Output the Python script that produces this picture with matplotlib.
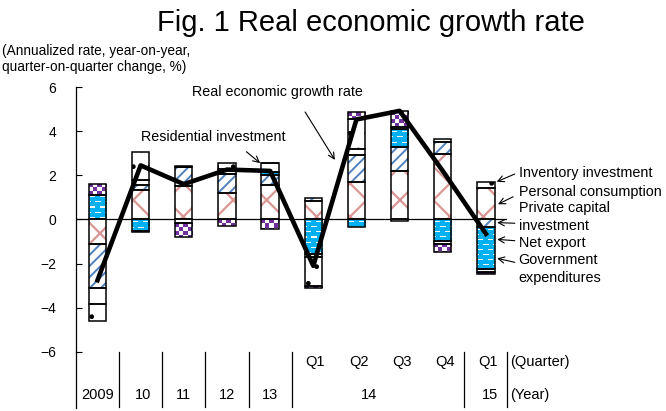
import numpy as np
import matplotlib.pyplot as plt
from matplotlib.colors import to_rgb

plt.rcParams['font.family'] = ['Liberation Sans', 'DejaVu Sans']

# periods (years, then 2014 quarters and 2015 Q1)
periods = ['2009', '10', '11', '12', '13', '14Q1', '14Q2', '14Q3', '14Q4', '15Q1']
quarter_labels = ['', '', '', '', '', 'Q1', 'Q2', 'Q3', 'Q4', 'Q1']
year_labels = ['2009', '10', '11', '12', '13', '14', '15']

# contributions (percentage points)
consumption = [-1.10, 1.32, 1.50, 1.20, 1.55, 0.83, 1.70, 2.20, 2.95, 1.44]
private_cap = [-2.00, 0.26, 0.88, 0.85, 0.45, 0.14, 1.20, 1.09, 0.55, -0.35]
net_export = [1.10, -0.50, 0.00, 0.00, 0.15, -1.56, -0.33, 0.79, -0.98, -1.90]
residential = [-0.72, 0.19, 0.03, 0.25, 0.41, -0.14, 0.28, 0.12, 0.14, -0.15]
inventory = [-0.78, 1.29, -0.17, 0.28, 0.00, -1.30, 1.37, -0.05, -0.12, 0.26]
government = [0.53, -0.05, -0.63, -0.30, -0.42, -0.10, 0.30, 0.72, -0.39, -0.05]
growth = [-2.75, 2.45, 1.60, 2.26, 2.20, -2.10, 4.53, 4.92, 2.20, -0.65]

CYAN = '#00b0f0'
PURPLE = '#7030a0'

# (values, face colour, hatch, hatch colour, hatch width, texture)
components = [
    (consumption, 'white', 'x', '#d99694', 1.6, None),
    (private_cap, 'white', '///', '#4f81bd', 1.4, None),
    (net_export, CYAN, '', CYAN, 1.0, 'dash'),
    (residential, 'white', '', 'white', 1.0, None),
    (inventory, 'white', '.', 'black', 1.0, None),
    (government, PURPLE, '', PURPLE, 1.0, 'checker'),
]


def make_texture(kind, hpx, wpx):
    arr = np.ones((hpx, wpx, 3))
    if kind == 'checker':
        c = np.array(to_rgb(PURPLE))
        for i in range(hpx):
            for j in range(wpx):
                if ((i // 4) + (j // 4)) % 2 == 0:
                    arr[i, j] = c
    else:
        arr[:, :] = to_rgb(CYAN)
        for i in range(hpx):
            if i % 5 == 2:
                off = 4 * ((i // 5) % 2)
                for j in range(wpx):
                    if 1 <= (j + off) % 9 <= 5:
                        arr[i, j] = (1, 1, 1)
    return arr


fig = plt.figure(figsize=(6.66, 4.11), dpi=100)
ax = fig.add_axes([0.114, 0.1436, 0.648, 0.6447])
ax.set_xlim(-0.5, 9.5)
ax.set_ylim(-6, 6)

x = np.arange(len(periods))
w = 0.4
pos_base = np.zeros(len(x))
neg_base = np.zeros(len(x))
for vals, face, hatch, hcol, hlw, tex in components:
    v = np.array(vals)
    bottoms = np.where(v >= 0, pos_base, neg_base)
    bars = ax.bar(x, v, w, bottom=bottoms, color=face, hatch=hatch,
                  edgecolor=hcol, linewidth=0, zorder=2)
    for p in bars:
        if hasattr(p, 'set_hatch_linewidth'):
            p.set_hatch_linewidth(hlw)
        if tex:
            x0, y0 = p.get_x(), p.get_y()
            pw, ph = p.get_width(), p.get_height()
            if ph < 0:
                y0, ph = y0 + ph, -ph
            (px0, py0), (px1, py1) = ax.transData.transform([(x0, y0), (x0 + pw, y0 + ph)])
            wpx, hpx = int(round(px1 - px0)), int(round(py1 - py0))
            if hpx >= 2:
                im = ax.imshow(make_texture(tex, hpx, wpx), extent=(x0, x0 + pw, y0, y0 + ph),
                               origin='upper', aspect='auto', interpolation='nearest', zorder=2.5)
                im.set_clip_path(p)
    ax.bar(x, v, w, bottom=bottoms, fill=False, edgecolor='black',
           linewidth=1.1, zorder=3)
    pos_base += np.where(v >= 0, v, 0)
    neg_base += np.where(v < 0, v, 0)

ax.plot(x, growth, color='black', linewidth=3.3, zorder=5)
ax.axhline(0, color='black', linewidth=0.9, zorder=1)

ax.set_xlim(-0.5, 9.5)
ax.set_ylim(-6, 6)
ax.set_yticks(np.arange(-6, 7, 2))
ax.tick_params(axis='y', direction='in', length=4, pad=14, labelsize=10)
ax.set_xticks([])
for s in ['top', 'right', 'bottom']:
    ax.spines[s].set_visible(False)
ax.spines['left'].set_linewidth(0.9)

# category table below the plot
tr = ax.get_xaxis_transform()
ax.plot([-0.5, -0.5], [0, -0.21], color='black', lw=0.9, transform=tr, clip_on=False)
for sx in [0.5, 1.5, 2.5, 3.5, 4.5, 8.5, 9.5]:
    ax.plot([sx, sx], [0, -0.207], color='black', lw=0.9, transform=tr, clip_on=False)
for xi, q in zip(x, quarter_labels):
    if q:
        ax.text(xi + 0.05, -0.038, q, transform=tr, ha='center', va='center', fontsize=10.5)
year_x = [0, 1.05, 2, 3, 4, 6.3, 9.1]
for xi, yl in zip(year_x, year_labels):
    ax.text(xi, -0.164, yl, transform=tr, ha='center', va='center', fontsize=10.5)
ax.text(9.55, -0.038, '(Quarter)', transform=tr, ha='left', va='center', fontsize=10.5)
ax.text(9.55, -0.164, '(Year)', transform=tr, ha='left', va='center', fontsize=10.5)

# annotations
arrow = dict(arrowstyle='->', color='black', lw=0.8, shrinkA=0, shrinkB=0,
             mutation_scale=11)
ax.text(4.18, 5.77, 'Real economic growth rate', ha='center', va='center', fontsize=10.3)
ax.annotate('', xy=(5.5, 2.7), xytext=(4.81, 4.87), arrowprops=arrow)
ax.text(2.68, 3.74, 'Residential investment', ha='center', va='center', fontsize=10.3)
ax.annotate('', xy=(3.77, 2.55), xytext=(3.45, 3.07), arrowprops=arrow)

right_texts = [('Inventory investment', 2.09), ('Personal consumption', 1.26),
               ('Private capital', 0.51), ('investment', -0.29), ('Net export', -1.05),
               ('Government', -1.83), ('expenditures', -2.66)]
for t, ty in right_texts:
    ax.text(9.76, ty, t, ha='left', va='center', fontsize=10.4, clip_on=False)
right_arrows = [((9.25, 1.71), (9.67, 2.06)), ((9.28, 0.69), (9.63, 1.03)),
                ((9.26, -0.14), (9.67, -0.17)), ((9.26, -0.90), (9.67, -0.96)),
                ((9.26, -1.76), (9.67, -1.94))]
for head, tail in right_arrows:
    ax.annotate('', xy=head, xytext=tail, arrowprops=arrow, annotation_clip=False)

fig.text(0.557, 0.945, 'Fig. 1 Real economic growth rate', ha='center', va='center', fontsize=21)
fig.text(0.003, 0.876, '(Annualized rate, year-on-year,', ha='left', va='center', fontsize=9.8)
fig.text(0.003, 0.836, 'quarter-on-quarter change, %)', ha='left', va='center', fontsize=9.8)

fig.savefig('out.png', dpi=100)
